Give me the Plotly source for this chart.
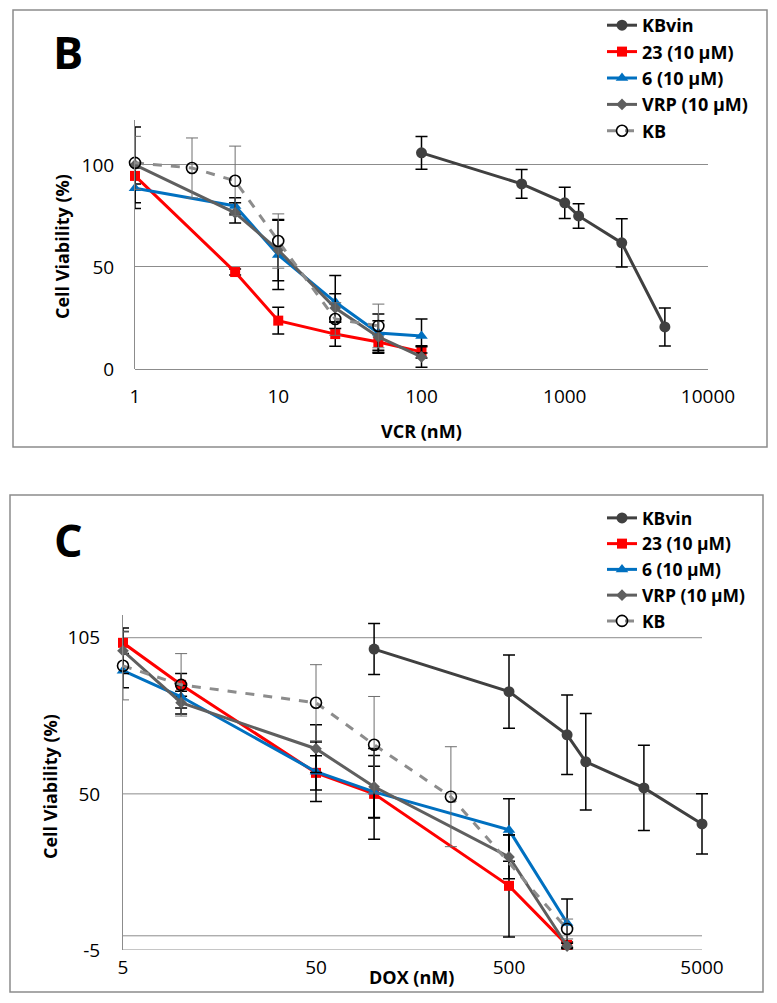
import plotly.graph_objects as go

# ---------------- Panel B data (VCR) ----------------
b_kbvin_x = [100, 500, 1000, 1250, 2500, 5000]
b_kbvin_y = [105.9, 90.7, 81.4, 75.0, 61.8, 20.6]
b_kbvin_err = [8, 7.1, 7.6, 6, 11.8, 9.3]

b_x = [1, 5, 10, 25, 50, 100]
b_23_y = [94.6, 47.5, 23.7, 17.1, 13.2, 8.4]
b_23_err = [4, 1.5, 6.6, 6, 4, 3]
b_6_y = [88.6, 79.9, 55.9, 32.8, 17.6, 16.2]
b_6_err = [10, 4, 17, 13, 9.4, 8.3]
b_vrp_y = [100, 76.5, 58.3, 29.9, 15.7, 5.9]
b_vrp_err = [18.6, 5, 15, 7, 8, 5]
b_kb_x = [1, 2.5, 5, 10, 25, 50]
b_kb_y = [101, 98.5, 92.2, 62.7, 24.5, 21.1]
b_kb_err = [13, 14.7, 17, 13.3, 8, 10.7]

# ---------------- Panel C data (DOX) ----------------
c_kbvin_x = [100, 500, 1000, 1250, 2500, 5000]
c_kbvin_y = [101, 86.0, 70.8, 61.3, 52.1, 39.4]
c_kbvin_err = [9, 12.9, 14, 17, 15, 10.6]

c_x = [5, 10, 50, 100, 500, 1000]
c_23_y = [103.2, 88.4, 57.4, 50.0, 17.6, -3.2]
c_23_err = [4, 4, 6, 16, 18, 1]
c_6_y = [93.4, 84.2, 57.8, 50.7, 37.3, 4.5]
c_6_err = [6, 4, 10.5, 9, 11, 8.5]
c_vrp_y = [100.4, 82.1, 65.9, 52.5, 27.8, -3.6]
c_vrp_err = [8, 4, 8.4, 11, 7.7, 1]
c_kb_x = [5, 10, 50, 100, 250, 1000]
c_kb_y = [95.1, 88.4, 82.1, 67.3, 49.0, 2.4]
c_kb_err = [12, 11, 13.4, 17, 17.6, 3.5]

names = ["KBvin", "23 (10 μM)", "6 (10 μM)", "VRP (10 μM)", "KB"]

b_xticks = [1, 10, 100, 1000, 10000]
c_xticks = [5, 50, 500, 5000]
b_yticks = [0, 50, 100]
c_yticks = [-5, 50, 105]
c_gridlines = [-5, 0, 50, 105]

# page body has an 8px margin: figure is placed at (8, 8)
OFF = 8
W, H = 777 - OFF, 1003 - OFF
FONT = "Open Sans"


def px(x):
    return (x - OFF) / W


def py(y):
    return (H - (y - OFF)) / H


styles = [
    dict(line=dict(color="#404040", width=3), marker=dict(symbol="circle", size=11, color="#404040"),
         err=dict(color="black", thickness=1.5, width=6)),
    dict(line=dict(color="#FF0000", width=3), marker=dict(symbol="square", size=10, color="#FF0000"),
         err=dict(color="black", thickness=1.5, width=6)),
    dict(line=dict(color="#0070C0", width=3), marker=dict(symbol="triangle-up", size=11, color="#0070C0"),
         err=dict(color="black", thickness=1.5, width=6)),
    dict(line=dict(color="#5F5F5F", width=3), marker=dict(symbol="diamond", size=9, color="#5F5F5F"),
         err=dict(color="black", thickness=1.5, width=6)),
    dict(line=dict(color="#8C8C8C", width=3, dash="dash"),
         marker=dict(symbol="circle-open", size=11, color="black", line=dict(width=1.6, color="black")),
         err=dict(color="#6E6E6E", thickness=1, width=6)),
]

fig = go.Figure()


def add_panel(series, xa, ya, legend):
    for i, (xs, ys, es) in enumerate(series):
        st = styles[i]
        fig.add_trace(go.Scatter(
            x=xs, y=ys, mode="lines+markers", name="<b>" + names[i] + "</b>",
            line=st["line"], marker=st["marker"],
            error_y=dict(type="data", array=es, visible=True, **st["err"]),
            xaxis=xa, yaxis=ya, legend=legend, legendgroup=legend + str(i),
            cliponaxis=False,
        ))


add_panel([
    (b_kbvin_x, b_kbvin_y, b_kbvin_err),
    (b_x, b_23_y, b_23_err),
    (b_x, b_6_y, b_6_err),
    (b_x, b_vrp_y, b_vrp_err),
    (b_kb_x, b_kb_y, b_kb_err),
], "x", "y", "legend")

add_panel([
    (c_kbvin_x, c_kbvin_y, c_kbvin_err),
    (c_x, c_23_y, c_23_err),
    (c_x, c_6_y, c_6_err),
    (c_x, c_vrp_y, c_vrp_err),
    (c_kb_x, c_kb_y, c_kb_err),
], "x2", "y2", "legend2")

GRID = "#8C8C8C"
tickfont = dict(family=FONT, size=19, color="black")

# C x axis: 5 -> 123 px, 193 px per decade (range a bit past 5000 so the last marker shows)
c_lo, c_hi = 0.69897, 3.75
c_right = 123 + 193 * (c_hi - c_lo)

fig.update_layout(
    width=W, height=H, margin=dict(l=0, r=0, t=0, b=0, autoexpand=False),
    paper_bgcolor="white", plot_bgcolor="white",
    font=dict(family=FONT, color="black"),
    xaxis=dict(domain=[px(135), px(708)], type="log", range=[0, 4.0],
               tickvals=b_xticks, ticktext=[str(v) for v in b_xticks],
               showgrid=False, zeroline=False, showline=False, ticks="", automargin=False,
               tickfont=tickfont, ticklabelstandoff=14, anchor="y"),
    yaxis=dict(domain=[py(369), py(120)], range=[0, 122], tickvals=b_yticks,
               showgrid=True, gridcolor=GRID, gridwidth=1, zeroline=True, automargin=False,
               zerolinecolor=GRID, zerolinewidth=1, showline=True, linecolor=GRID, linewidth=1,
               ticks="", tickfont=tickfont, ticklabelstandoff=16, anchor="x"),
    xaxis2=dict(domain=[px(123), px(c_right)], type="log", range=[c_lo, c_hi],
                tickvals=c_xticks, ticktext=[str(v) for v in c_xticks],
                showgrid=False, zeroline=False, showline=False, ticks="", automargin=False,
                tickfont=tickfont, ticklabelstandoff=4, anchor="y2"),
    yaxis2=dict(domain=[py(950), py(615)], range=[-5, 113], tickvals=c_yticks,
                ticktext=[str(v) for v in c_yticks],
                showgrid=False, zeroline=False, automargin=False,
                showline=True, linecolor=GRID, linewidth=1,
                ticks="", tickfont=tickfont, ticklabelstandoff=18, anchor="x2"),
    legend=dict(x=px(602), y=py(7), xanchor="left", yanchor="top",
                font=dict(family=FONT, size=18, color="black"), bgcolor="rgba(0,0,0,0)",
                tracegroupgap=0, itemwidth=30),
    legend2=dict(x=px(602), y=py(500), xanchor="left", yanchor="top",
                 font=dict(family=FONT, size=17.5, color="black"), bgcolor="rgba(0,0,0,0)",
                 tracegroupgap=0, itemwidth=30),
    showlegend=True,
)

# horizontal grid / axis lines of panel C, from the first to the last x tick
for v in c_gridlines:
    fig.add_shape(type="line", xref="x2", yref="y2", x0=c_xticks[0], x1=c_xticks[-1], y0=v, y1=v,
                  line=dict(color=GRID, width=1), layer="below")

# panel frames
fig.add_shape(type="rect", xref="paper", yref="paper", x0=px(13), x1=px(767), y0=py(447), y1=py(10),
              line=dict(color="#8C8C8C", width=1.5), layer="below")
fig.add_shape(type="rect", xref="paper", yref="paper", x0=px(10), x1=px(763), y0=py(992), y1=py(495),
              line=dict(color="#8C8C8C", width=1.5), layer="below")

ann = [
    dict(text="<b>B</b>", x=px(68), y=py(52), size=45),
    dict(text="<b>C</b>", x=px(68), y=py(540), size=45),
    dict(text="<b>VCR (nM)</b>", x=px(421), y=py(431), size=18),
    dict(text="<b>DOX (nM)</b>", x=px(411), y=py(977), size=18),
]
for a in ann:
    fig.add_annotation(text=a["text"], x=a["x"], y=a["y"], xref="paper", yref="paper",
                       showarrow=False, xanchor="center", yanchor="middle",
                       font=dict(family=FONT, size=a["size"], color="black"))
for yc in (247, 787):
    fig.add_annotation(text="<b>Cell Viability (%)</b>", x=px(62 if yc < 500 else 50), y=py(yc),
                       xref="paper", yref="paper", showarrow=False, textangle=-90,
                       xanchor="center", yanchor="middle",
                       font=dict(family=FONT, size=18, color="black"))

fig.write_html("out.html")
